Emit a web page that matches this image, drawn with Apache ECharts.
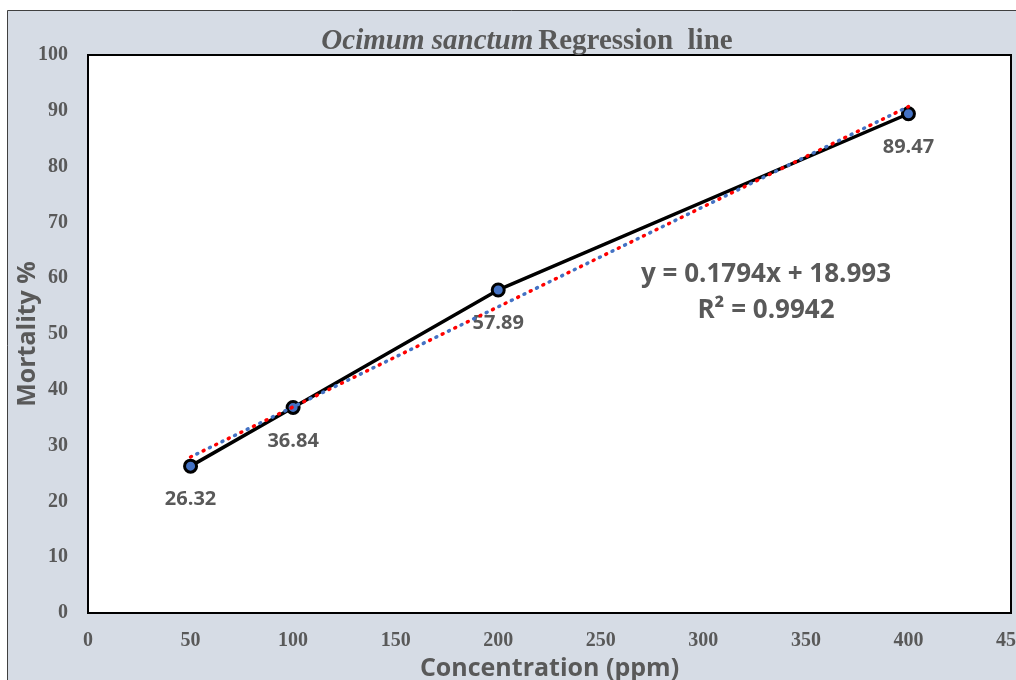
<!DOCTYPE html>
<html>
<head>
<meta charset="utf-8">
<script src="https://cdn.jsdelivr.net/npm/echarts@6/dist/echarts.min.js"></script>
<style>
html,body{margin:0;padding:0;background:#fff;}
#chart{width:1016px;height:680px;}
</style>
</head>
<body>
<div id="chart"></div>
<script>
const concentrations = [50, 100, 200, 400];
const mortality = [26.32, 36.84, 57.89, 89.47];
const trendX = [50, 400];
const trendY = [27.96, 90.75];
const xTicks = [0, 50, 100, 150, 200, 250, 300, 350, 400, 450];
const yTicks = [0, 10, 20, 30, 40, 50, 60, 70, 80, 90, 100];
const equationText = 'y = 0.1794x + 18.993';
const r2Text = 'R² = 0.9942';

const chart = echarts.init(document.getElementById('chart'));
const points = concentrations.map((x, i) => [x, mortality[i]]);
const trend = trendX.map((x, i) => [x, trendY[i]]);
const gray = '#595959';

chart.setOption({
  backgroundColor: '#d6dce5',
  animation: false,
  title: {
    text: '{i|Ocimum sanctum} {n|Regression  line}',
    left: 522, top: 22, textAlign: 'center',
    textStyle: {
      rich: {
        i: {fontFamily: 'Liberation Serif', fontStyle: 'italic', fontWeight: 'bold', fontSize: 29, color: gray},
        n: {fontFamily: 'Liberation Serif', fontWeight: 'bold', fontSize: 29, color: gray}
      }
    }
  },
  grid: {
    left: 88, top: 55, right: 5, bottom: 67,
    outerBoundsMode: 'none', containLabel: false,
    show: true, backgroundColor: '#ffffff', borderColor: '#000000', borderWidth: 2
  },
  xAxis: {
    type: 'value', min: xTicks[0], max: xTicks[xTicks.length - 1], interval: 50,
    name: 'Concentration (ppm)', nameLocation: 'middle', nameGap: 43, nameMoveOverlap: false,
    nameTextStyle: {fontFamily: 'Open Sans', fontWeight: 'bold', fontSize: 25, color: gray},
    axisLine: {show: false}, axisTick: {show: false}, splitLine: {show: false},
    axisLabel: {margin: 18, fontFamily: 'Liberation Serif', fontWeight: 'bold', fontSize: 20, color: gray}
  },
  yAxis: {
    type: 'value', min: yTicks[0], max: yTicks[yTicks.length - 1], interval: 10,
    name: 'Mortality %', nameLocation: 'middle', nameGap: 48, nameMoveOverlap: false,
    nameTextStyle: {fontFamily: 'Open Sans', fontWeight: 'bold', fontSize: 25, color: gray},
    axisLine: {show: false}, axisTick: {show: false}, splitLine: {show: false},
    axisLabel: {margin: 20, fontFamily: 'Liberation Serif', fontWeight: 'bold', fontSize: 20, color: gray}
  },
  graphic: [
    {type: 'rect', shape: {x: 0, y: 0, width: 1016, height: 10}, style: {fill: '#ffffff'}, silent: true},
    {type: 'rect', shape: {x: 0, y: 0, width: 7, height: 680}, style: {fill: '#ffffff'}, silent: true},
    {type: 'polyline', shape: {points: [[7.5, 680], [7.5, 10.5], [1016, 10.5]]}, style: {stroke: '#404040', lineWidth: 1, fill: null}, silent: true},
    {type: 'text', x: 766, y: 275, style: {text: equationText, align: 'center', verticalAlign: 'middle', fontFamily: 'Open Sans', fontWeight: 'bold', fontSize: 26, fill: gray}},
    {type: 'text', x: 766, y: 311, style: {text: r2Text, align: 'center', verticalAlign: 'middle', fontFamily: 'Open Sans', fontWeight: 'bold', fontSize: 26, fill: gray}}
  ],
  series: [
    {
      type: 'line', data: points, z: 2,
      lineStyle: {color: '#000000', width: 3.5},
      symbol: 'circle', symbolSize: 12,
      itemStyle: {color: '#4472c4', borderColor: '#000000', borderWidth: 3},
      label: {show: true, position: 'bottom', distance: 16, fontFamily: 'Open Sans', fontWeight: 'bold', fontSize: 20, color: gray,
        formatter: p => p.value[1].toFixed(2)}
    },
    {
      type: 'line', data: trend, z: 3, symbol: 'none', silent: true,
      lineStyle: {color: '#ff0000', width: 3.5, type: [1, 13], cap: 'round'}
    },
    {
      type: 'line', data: trend, z: 3, symbol: 'none', silent: true,
      lineStyle: {color: '#4472c4', width: 3.5, type: [1, 13], dashOffset: 7, cap: 'round'}
    }
  ]
});
</script>
</body>
</html>
